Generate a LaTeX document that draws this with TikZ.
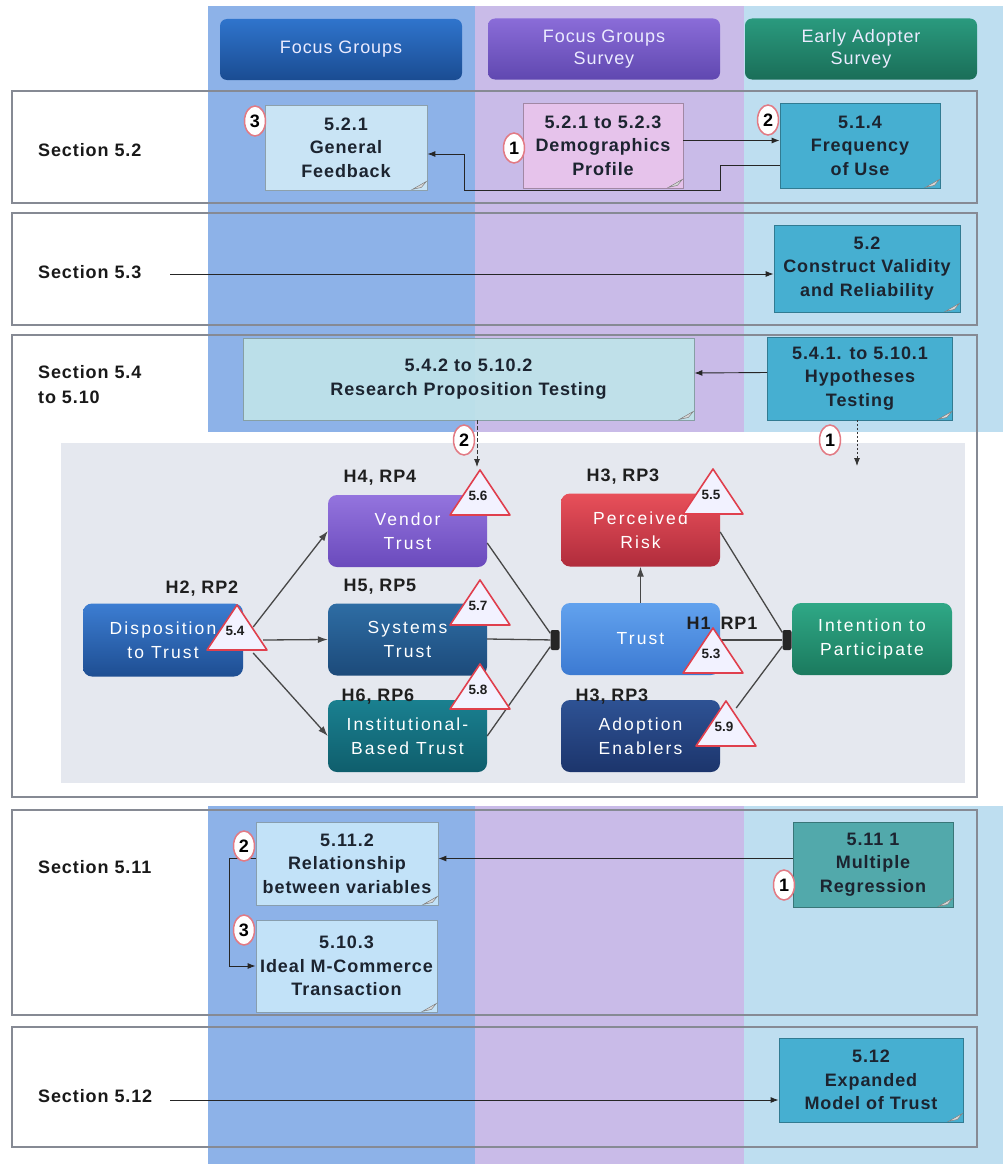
\documentclass[tikz,border=0pt]{standalone}
\usepackage{fontspec}
\setmainfont{Liberation Sans}
\newfontfamily\txtfont[LetterSpace=5]{Liberation Sans}
\newfontfamily\modfont[LetterSpace=12]{Liberation Sans}
\usetikzlibrary{arrows.meta,calc,shapes.geometric}

\definecolor{colA}{HTML}{8DB2E8}
\definecolor{colB}{HTML}{C9BBE8}
\definecolor{colC}{HTML}{BEDEF0}
\definecolor{rowline}{HTML}{868A94}
\definecolor{panel}{HTML}{E5E8EF}
\definecolor{notetext}{HTML}{1C2430}
\definecolor{lblue}{HTML}{C9E4F5}
\definecolor{lpink}{HTML}{E6C3EB}
\definecolor{teal}{HTML}{46AFD1}
\definecolor{tealg}{HTML}{52A9AB}
\definecolor{lcyan}{HTML}{BFE3EA}
\definecolor{lsky}{HTML}{C2E2F8}
\definecolor{circred}{HTML}{E27A84}
\definecolor{trired}{HTML}{E0404E}
% header gradients
\definecolor{fgTop}{HTML}{2F74CC}\definecolor{fgBot}{HTML}{1A4C92}
\definecolor{fsTop}{HTML}{8A6CD8}\definecolor{fsBot}{HTML}{6048B0}
\definecolor{eaTop}{HTML}{2A9A7E}\definecolor{eaBot}{HTML}{1A6E58}
% model node gradients
\definecolor{dispTop}{HTML}{3C7DD2}\definecolor{dispBot}{HTML}{1E4E92}
\definecolor{vendTop}{HTML}{9474DE}\definecolor{vendBot}{HTML}{6A4ABC}
\definecolor{sysTop}{HTML}{2E6DA4}\definecolor{sysBot}{HTML}{1C4A7A}
\definecolor{instTop}{HTML}{1A8090}\definecolor{instBot}{HTML}{0F5E6C}
\definecolor{riskTop}{HTML}{E8505A}\definecolor{riskBot}{HTML}{B02C3C}
\definecolor{trustTop}{HTML}{62A2EE}\definecolor{trustBot}{HTML}{3C7AD2}
\definecolor{adoTop}{HTML}{2E5294}\definecolor{adoBot}{HTML}{1C356C}
\definecolor{intTop}{HTML}{2FA886}\definecolor{intBot}{HTML}{1B7A5E}

% page curl at the lower right corner of a note
\newcommand\pagecurl[1]{%
  \filldraw[fill=white!70!gray, draw=gray, line width=.5pt]
    ([xshift=-15pt,yshift=1pt]#1.south east) -- ([xshift=-1pt,yshift=9pt]#1.south east)
    -- ([xshift=-6pt,yshift=3pt]#1.south east) -- cycle;}

% hypothesis marker: triangle with its chapter number
\newcommand\hyptri[4]{%
  \filldraw[fill=white!95!blue, draw=trired, line width=1.6pt, line join=round]
    (#2,#3) -- ++(30,45) -- ++(-60,0) -- cycle;
  \node[trilabel] (#1) at (#2-2,#3+26) {#4};}

\begin{document}
\begin{tikzpicture}[x=1pt,y=-1pt,
  rowframe/.style={draw=rowline, line width=2.8pt},
  hdr/.style={rectangle, rounded corners=7pt, minimum height=61pt, inner sep=0pt,
    text=white!92!blue, align=center, font=\txtfont\fontsize{18}{22}\selectfont},
  note/.style={rectangle, fill=#1, draw=#1!70!black, line width=.8pt, inner sep=0pt,
    align=center, text=notetext, font=\txtfont\bfseries\fontsize{18}{23.5}\selectfont},
  sec/.style={anchor=west, inner sep=0pt, align=left, text=black!90,
    font=\txtfont\bfseries\fontsize{18}{25}\selectfont},
  mnode/.style={rectangle, rounded corners=9pt, minimum width=159pt, minimum height=72pt,
    inner sep=0pt, text=white, align=center, font=\modfont\fontsize{17.5}{23.5}\selectfont},
  hlab/.style={inner sep=0pt, text=black!88, font=\txtfont\bfseries\fontsize{18}{20}\selectfont},
  trilabel/.style={inner sep=0pt, text=black!88, font=\bfseries\fontsize{13.5}{14}\selectfont},
  numc/.style={ellipse, draw=circred, line width=1.5pt, fill=white, minimum width=21pt,
    minimum height=30pt, inner sep=0pt, text=black, font=\bfseries\fontsize{18}{20}\selectfont},
  junc/.style={rectangle, fill=black!85, rounded corners=2pt, minimum width=9pt,
    minimum height=20pt, inner sep=0pt},
  conn/.style={draw=black!85, line width=.9pt, -{Latex[length=8pt,width=6pt]}},
  thinconn/.style={draw=black!80, line width=.8pt, dash pattern=on 4pt off 2pt,
    -{Latex[length=8pt,width=6pt]}},
  medge/.style={draw=black!72, line width=1.3pt},
  mtip/.style={-{Latex[length=10pt,width=7pt]}}
]
\useasboundingbox (0,0) rectangle (1003,1164);
\fill[white] (0,0) rectangle (1003,1164);

% swimlane backgrounds
\fill[colA] (208,6) rectangle (475,432);
\fill[colB] (475,6) rectangle (744,432);
\fill[colC] (744,6) rectangle (1003,432);
\fill[colA] (208,806) rectangle (475,1164);
\fill[colB] (475,806) rectangle (744,1164);
\fill[colC] (744,806) rectangle (1003,1164);

% section rows
\draw[rowframe] (12,91) rectangle (977,203);
\draw[rowframe] (12,213) rectangle (977,325);
\draw[rowframe] (12,335) rectangle (977,797);
\draw[rowframe] (12,810) rectangle (977,1015);
\draw[rowframe] (12,1027) rectangle (977,1147);
\fill[panel] (61,443) rectangle (965,783);

% lane headers
\node[hdr, minimum width=242pt, top color=fgTop, bottom color=fgBot] (hfg) at (341,49.5) {Focus Groups};
\node[hdr, minimum width=232pt, top color=fsTop, bottom color=fsBot] (hfs) at (604,49) {Focus Groups\\Survey};
\node[hdr, minimum width=232pt, top color=eaTop, bottom color=eaBot] (hea) at (861,49) {Early Adopter\\Survey};

% section labels
\node[sec] (sec52) at (38,150) {Section 5.2};
\node[sec] (sec53) at (38,272) {Section 5.3};
\node[sec] (sec54) at (38,385) {Section 5.4\\to 5.10};
\node[sec] (sec511) at (38,867) {Section 5.11};
\node[sec] (sec512) at (38,1096) {Section 5.12};

% ---- Section 5.2 ----
\node[note=lblue, minimum width=162pt, minimum height=85pt] (gf) at (346,147.5) {5.2.1\\General\\Feedback};
\node[note=lpink, minimum width=160pt, minimum height=85pt] (dp) at (603,145.5) {5.2.1 to 5.2.3\\Demographics\\Profile};
\node[note=teal, minimum width=160pt, minimum height=85pt] (fq) at (860,145.5) {5.1.4\\Frequency\\of Use};
\pagecurl{gf}\pagecurl{dp}\pagecurl{fq}
\draw[conn] ([yshift=5pt]dp.east) -- ([yshift=5pt]fq.west);
\draw[conn] ([yshift=-19.5pt]fq.west) -| (720,190) -| (464,154) -- ([yshift=-6.5pt]gf.east);
\node[numc] (n52c) at (255,121) {3};
\node[numc] (n52a) at (514,148) {1};
\node[numc] (n52b) at (768,120) {2};

% ---- Section 5.3 ----
\node[note=teal, minimum width=186pt, minimum height=87pt] (cv) at (867,268.5) {5.2\\Construct Validity\\and Reliability};
\pagecurl{cv}
\coordinate (a53) at (170,274);
\draw[conn] (a53) -- (a53 -| cv.west);

% ---- Sections 5.4 to 5.10 ----
\node[note=lcyan, fill opacity=.93, text opacity=1, minimum width=451pt, minimum height=82pt] (rp) at (468.5,379) {5.4.2 to 5.10.2\\Research Proposition Testing};
\node[note=teal, minimum width=185pt, minimum height=83pt] (hy) at (860,378.5) {5.4.1. to 5.10.1\\Hypotheses\\Testing};
\pagecurl{rp}\pagecurl{hy}
\draw[conn] ([yshift=6pt]hy.west) -- ([yshift=6pt]rp.east);

% research model
\node[mnode, minimum width=160pt, minimum height=73pt, top color=dispTop, bottom color=dispBot] (disp) at (163,640) {Disposition\\to Trust};
\node[mnode, top color=vendTop, bottom color=vendBot] (vend) at (407.5,531) {Vendor\\Trust};
\node[mnode, top color=sysTop, bottom color=sysBot] (sys) at (407.5,639.5) {Systems\\Trust};
\node[mnode, top color=instTop, bottom color=instBot] (inst) at (407.5,736) {Institutional-\\Based Trust};
\node[mnode, minimum height=73pt, top color=riskTop, bottom color=riskBot] (risk) at (640.5,530) {Perceived\\Risk};
\node[mnode, top color=trustTop, bottom color=trustBot] (trust) at (640.5,639) {Trust};
\node[mnode, top color=adoTop, bottom color=adoBot] (adopt) at (640.5,736) {Adoption\\Enablers};
\node[mnode, minimum width=160pt, top color=intTop, bottom color=intBot] (intent) at (872,639) {Intention to\\Participate};
\node[junc] (jt) at (555,640) {};
\node[junc] (ji) at (787,640) {};

\draw[medge,mtip] ([xshift=10pt,yshift=13pt]disp.east) -- (vend.west);
\draw[medge,mtip] ([xshift=20pt]disp.east) -- (sys.west);
\draw[medge,mtip] ([xshift=10pt,yshift=-13pt]disp.east) -- (inst.west);
\draw[medge] ([yshift=-12pt]vend.east) -- (jt);
\draw[medge] ([yshift=.5pt]sys.east) -- (jt);
\draw[medge] (inst.east) -- (jt);
\draw[medge,mtip] (trust.north) -- (risk.south);
\draw[medge] ([yshift=-2pt]risk.east) -- (ji);
\draw[medge] ([yshift=-1pt]trust.east) -- (ji);
\draw[medge] ([xshift=16pt,yshift=28pt]adopt.east) -- (ji);

% hypothesis labels
\node[hlab] (h2) at (202,589) {H2, RP2};
\node[hlab] (h4) at (380,478) {H4, RP4};
\node[hlab] (h5) at (380,587) {H5, RP5};
\node[hlab] (h6) at (378,697) {H6, RP6};
\node[hlab] (h3a) at (623,477) {H3, RP3};
\node[hlab] (h1) at (722,623) {H1\hspace{10pt}RP1};
\node[hlab] (h3b) at (612,697) {H3, RP3};

% chapter markers
\hyptri{t54}{237}{605}{5.4}
\hyptri{t56}{480}{470}{5.6}
\hyptri{t57}{480}{580}{5.7}
\hyptri{t58}{480}{664}{5.8}
\hyptri{t55}{713}{469}{5.5}
\hyptri{t53}{713}{628}{5.3}
\hyptri{t59}{726}{701}{5.9}

% links from the testing notes into the model
\coordinate (a56) at (477,467);
\coordinate (hyend) at (857,466);
\draw[thinconn] (rp.south -| a56) -- (a56);
\draw[thinconn, dash pattern=on 2pt off 2pt] (hy.south -| hyend) -- (hyend);
\node[numc] (n54b) at (464,440) {2};
\node[numc] (n54a) at (830,440) {1};

% ---- Section 5.11 ----
\node[note=lsky, minimum width=182pt, minimum height=83pt] (rv) at (347,863.5) {5.11.2\\Relationship\\between variables};
\node[note=lsky, minimum width=181pt, minimum height=92pt] (im) at (346.5,966) {5.10.3\\Ideal M-Commerce\\Transaction};
\node[note=tealg, minimum width=160pt, minimum height=85pt] (mr) at (873,864.5) {5.11 1\\Multiple\\Regression};
\pagecurl{rv}\pagecurl{im}\pagecurl{mr}
\draw[conn] ([yshift=6pt]mr.west) coordinate (m1) -- (m1 -| rv.east);
\draw[conn] ([yshift=5.5pt]rv.west) -- ++(-26,0) |- (im.west);
\node[numc] (n511b) at (244,846) {2};
\node[numc] (n511c) at (244,930) {3};
\node[numc] (n511a) at (784,885) {1};

% ---- Section 5.12 ----
\node[note=teal, minimum width=184pt, minimum height=84pt] (em) at (871,1080) {5.12\\Expanded\\Model of Trust};
\pagecurl{em}
\coordinate (a512) at (170,1100);
\draw[conn] (a512) -- (a512 -| em.west);
\end{tikzpicture}
\end{document}
